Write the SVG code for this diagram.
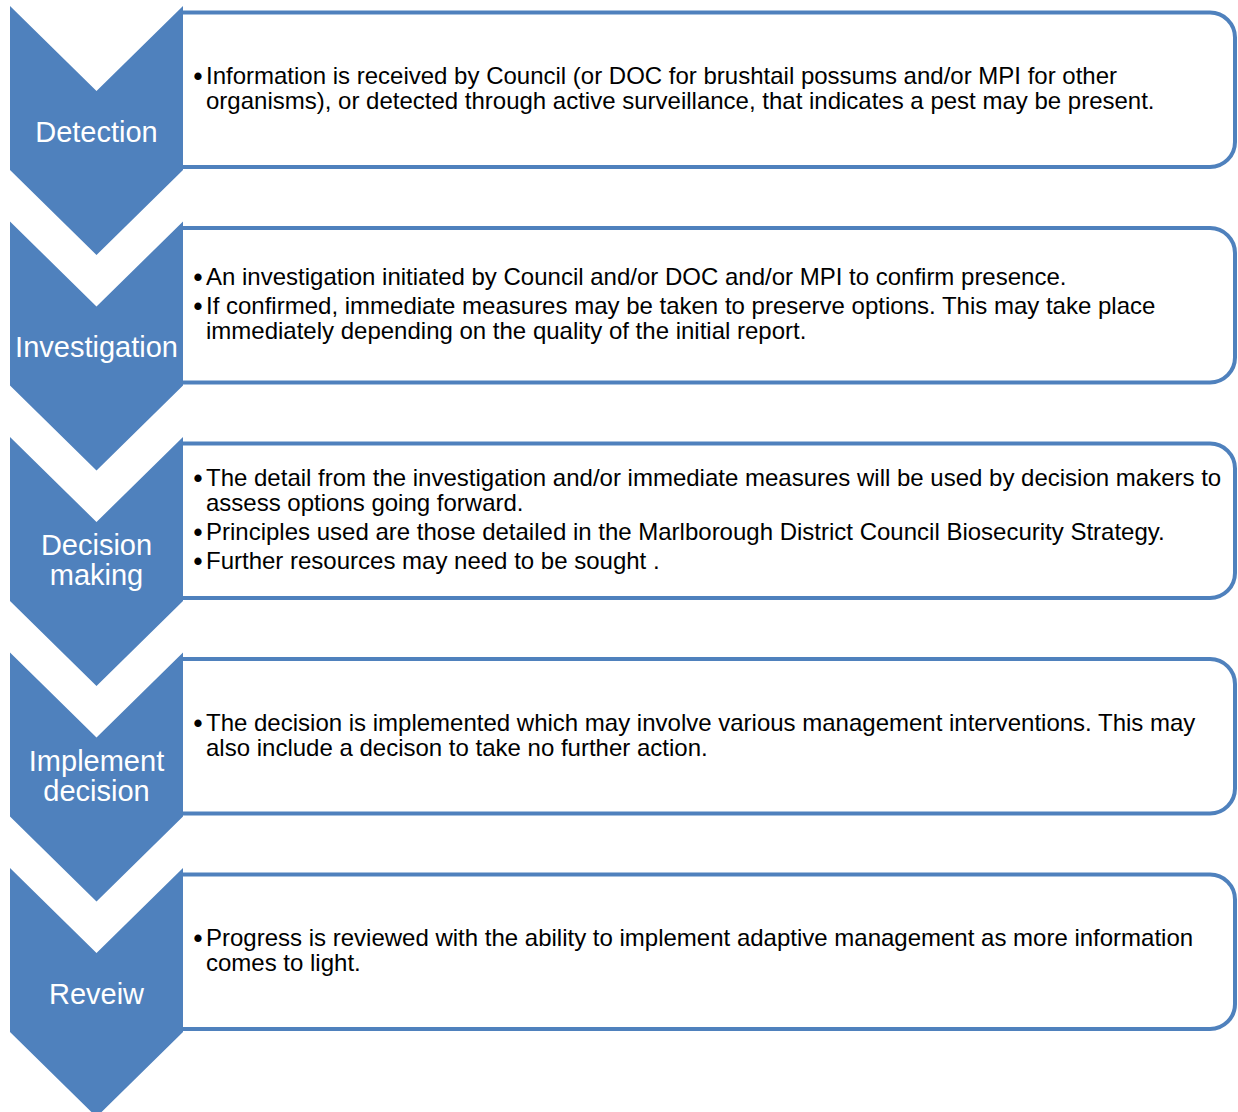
<svg xmlns="http://www.w3.org/2000/svg" width="1238" height="1112" viewBox="0 0 1238 1112">
<style>
.box{fill:#fff;stroke:#4F81BD;stroke-width:4}
.chev{fill:#4F81BD}
.lbl{font-family:"Liberation Sans",Arial,sans-serif;font-size:29px;fill:#fff;text-anchor:middle}
.txt{font-family:"Liberation Sans",Arial,sans-serif;font-size:24px;fill:#000}
.bul{font-family:"Liberation Sans",Arial,sans-serif;font-size:25.5px;fill:#000;font-weight:bold}
</style>
<defs>
<path id="chev" d="M10,0 L96.5,85 L183,0 L183,164 L96.5,249 L10,164 Z"/>
<path id="box" d="M183,6.5 H1210 A25,25 0 0 1 1235,31.5 V136 A25,25 0 0 1 1210,161 H183"/>
</defs>
<g id="connectors"></g>
<g id="step1" transform="translate(0,6)">
<use href="#box" class="box"/>
<use href="#chev" class="chev"/>
<text class="lbl" x="96.5" y="136">Detection</text>
</g>
<g id="step1text">
<text class="bul" x="193.5" y="84.5">•</text>
<text class="txt" x="206" y="84">Information is received by Council (or DOC for brushtail possums and/or MPI for other</text>
<text class="txt" x="206" y="109">organisms), or detected through active surveillance, that indicates a pest may be present.</text>
</g>
<g id="step2" transform="translate(0,221.5)">
<use href="#box" class="box"/>
<use href="#chev" class="chev"/>
<text class="lbl" x="96.5" y="135.5">Investigation</text>
</g>
<g id="step2text">
<text class="bul" x="193.5" y="285.5">•</text>
<text class="txt" x="206" y="285">An investigation initiated by Council and/or DOC and/or MPI to confirm presence.</text>
<text class="bul" x="193.5" y="314.5">•</text>
<text class="txt" x="206" y="314">If confirmed, immediate measures may be taken to preserve options. This may take place</text>
<text class="txt" x="206" y="339">immediately depending on the quality of the initial report.</text>
</g>
<g id="step3" transform="translate(0,437)">
<use href="#box" class="box"/>
<use href="#chev" class="chev"/>
<text class="lbl" x="96.5" y="118">Decision</text>
<text class="lbl" x="96.5" y="148">making</text>
</g>
<g id="step3text">
<text class="bul" x="193.5" y="486.5">•</text>
<text class="txt" x="206" y="486">The detail from the investigation and/or immediate measures will be used by decision makers to</text>
<text class="txt" x="206" y="511">assess options going forward.</text>
<text class="bul" x="193.5" y="540.5">•</text>
<text class="txt" x="206" y="540">Principles used are those detailed in the Marlborough District Council Biosecurity Strategy.</text>
<text class="bul" x="193.5" y="569.5">•</text>
<text class="txt" x="206" y="569">Further resources may need to be sought .</text>
</g>
<g id="step4" transform="translate(0,652.5)">
<use href="#box" class="box"/>
<use href="#chev" class="chev"/>
<text class="lbl" x="96.5" y="118">Implement</text>
<text class="lbl" x="96.5" y="148">decision</text>
</g>
<g id="step4text">
<text class="bul" x="193.5" y="731.5">•</text>
<text class="txt" x="206" y="731">The decision is implemented which may involve various management interventions. This may</text>
<text class="txt" x="206" y="756">also include a decison to take no further action.</text>
</g>
<g id="step5" transform="translate(0,868)">
<use href="#box" class="box"/>
<use href="#chev" class="chev"/>
<text class="lbl" x="96.5" y="135.5">Reveiw</text>
</g>
<g id="step5text">
<text class="bul" x="193.5" y="946.5">•</text>
<text class="txt" x="206" y="946">Progress is reviewed with the ability to implement adaptive management as more information</text>
<text class="txt" x="206" y="971">comes to light.</text>
</g>
</svg>
